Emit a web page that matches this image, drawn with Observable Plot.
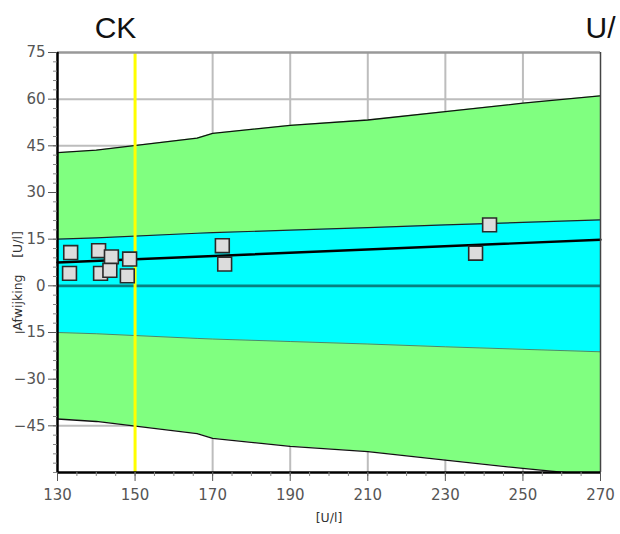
<!DOCTYPE html>
<html>
<head>
<meta charset="utf-8">
<script src="https://cdn.jsdelivr.net/npm/d3@7"></script>
<script src="https://cdn.jsdelivr.net/npm/@observablehq/plot@0.6"></script>
<style>
  html, body { margin: 0; padding: 0; background: #fff; overflow: hidden; }
  #chart { width: 620px; height: 534px; }
</style>
</head>
<body>
<div id="chart"></div>
<script>
// ---- data ----
const bandX      = [130, 140, 166, 170, 190, 210, 230, 250, 270];
const outerUpper = [42.8, 43.6, 47.5, 49.0, 51.6, 53.3, 56.0, 58.7, 61.1];
const outerLower = [-42.8, -43.6, -47.5, -49.0, -51.6, -53.3, -56.0, -58.7, -61.1];
const innerUpper = [15.0, 15.4, 16.9, 17.1, 17.9, 18.7, 19.6, 20.4, 21.2];
const innerLower = [-15.0, -15.4, -16.9, -17.1, -17.9, -18.7, -19.6, -20.4, -21.2];

const fitX = [130, 270];
const fitY = [7.5, 14.8];

const ptX = [133.4, 133.1, 140.6, 141.1, 143.9, 143.5, 148.6, 148.0, 172.5, 173.1, 241.4, 237.8];
const ptY = [10.7, 4.0, 11.3, 4.0, 9.3, 5.0, 8.6, 3.2, 12.9, 7.0, 19.6, 10.5];

const refX = 150;

const xTicks = [130, 150, 170, 190, 210, 230, 250, 270];
const xMinor = d3.range(130, 271, 5);
const yTicks = [75, 60, 45, 30, 15, 0, -15, -30, -45];
const yMinor = d3.range(-60, 76, 3);
const xGrid = [170, 190, 210, 230, 250];
const yGrid = [60, 45, 30, 15, -15, -30, -45];

const title = "CK";
const unitTitle = "U/";
const yLabelA = "Afwijking";
const yLabelB = "[U/l]";
const xLabel = "[U/l]";

// ---- tables built from arrays ----
const bands = bandX.map((x, i) => ({x, ou: outerUpper[i], ol: outerLower[i], iu: innerUpper[i], il: innerLower[i]}));
const fit = fitX.map((x, i) => ({x, y: fitY[i]}));
const pts = ptX.map((x, i) => ({x, y: ptY[i]}));

const chart = Plot.plot({
  width: 620,
  height: 534,
  marginLeft: 57,
  marginRight: 20,
  marginTop: 52,
  marginBottom: 62,
  style: {fontFamily: "DejaVu Sans", background: "#fff"},
  x: {domain: [130, 270]},
  y: {domain: [-60, 75]},
  marks: [
    Plot.ruleX(xGrid, {stroke: "#bdbdbd", strokeWidth: 2}),
    Plot.ruleY(yGrid, {stroke: "#bdbdbd", strokeWidth: 2}),
    Plot.areaY(bands, {x: "x", y1: "ol", y2: "ou", fill: "#80ff80", clip: true}),
    Plot.areaY(bands, {x: "x", y1: "il", y2: "iu", fill: "#00ffff", clip: true}),
    Plot.lineY(bands, {x: "x", y: "ou", stroke: "#111", strokeWidth: 1.3, clip: true}),
    Plot.lineY(bands, {x: "x", y: "ol", stroke: "#111", strokeWidth: 1.3, clip: true}),
    Plot.lineY(bands, {x: "x", y: "iu", stroke: "#222", strokeWidth: 1.2, clip: true}),
    Plot.lineY(bands, {x: "x", y: "il", stroke: "#3a6a6a", strokeWidth: 0.8, clip: true}),
    Plot.ruleY([0], {stroke: "#078080", strokeWidth: 2.8}),
    Plot.lineY(fit, {x: "x", y: "y", stroke: "#000", strokeWidth: 2.4}),
    Plot.ruleX([refX], {stroke: "#ffff00", strokeWidth: 3}),
    Plot.dot(pts, {x: "x", y: "y", symbol: "square", r: 7.8, fill: "#dcdcdc", stroke: "#2a2a2a", strokeWidth: 1.6}),
    // frame
    Plot.ruleY([75], {stroke: "#999", strokeWidth: 2.5}),
    Plot.ruleX([270], {stroke: "#444", strokeWidth: 1.5}),
    Plot.ruleX([130], {stroke: "#000", strokeWidth: 2.5}),
    Plot.ruleY([-60], {stroke: "#000", strokeWidth: 2.5}),
    // axes
    Plot.axisY(yMinor, {tickSize: 4, text: null, stroke: "#888", label: null}),
    Plot.axisY(yTicks, {tickSize: 9, tickPadding: 3, fontSize: 15, color: "#555", label: null}),
    Plot.axisX(xMinor, {tickSize: 4, text: null, stroke: "#888", label: null}),
    Plot.axisX(xTicks, {tickSize: 9, tickPadding: 8, fontSize: 15, color: "#555", label: null}),
    // texts
    Plot.text([title], {frameAnchor: "top-left", dx: 58, dy: -24, text: d => d, fontSize: 30, fontFamily: "Liberation Sans", fill: "#111", textAnchor: "middle", lineAnchor: "middle"}),
    Plot.text([unitTitle], {frameAnchor: "top-right", dx: -15, dy: -24, text: d => d, fontSize: 30, fontFamily: "Liberation Sans", fill: "#111", textAnchor: "start", lineAnchor: "middle"}),
    Plot.text([yLabelA], {frameAnchor: "left", dx: -40, dy: 40, text: d => d, rotate: -90, fontSize: 12.5, fill: "#333", textAnchor: "middle", lineAnchor: "middle"}),
    Plot.text([yLabelB], {frameAnchor: "left", dx: -40, dy: -18, text: d => d, rotate: -90, fontSize: 12.5, fill: "#333", textAnchor: "middle", lineAnchor: "middle"}),
    Plot.text([xLabel], {frameAnchor: "bottom", dy: 49, text: d => d, fontSize: 12.5, fill: "#333"})
  ]
});
document.getElementById("chart").appendChild(chart);
</script>
</body>
</html>
